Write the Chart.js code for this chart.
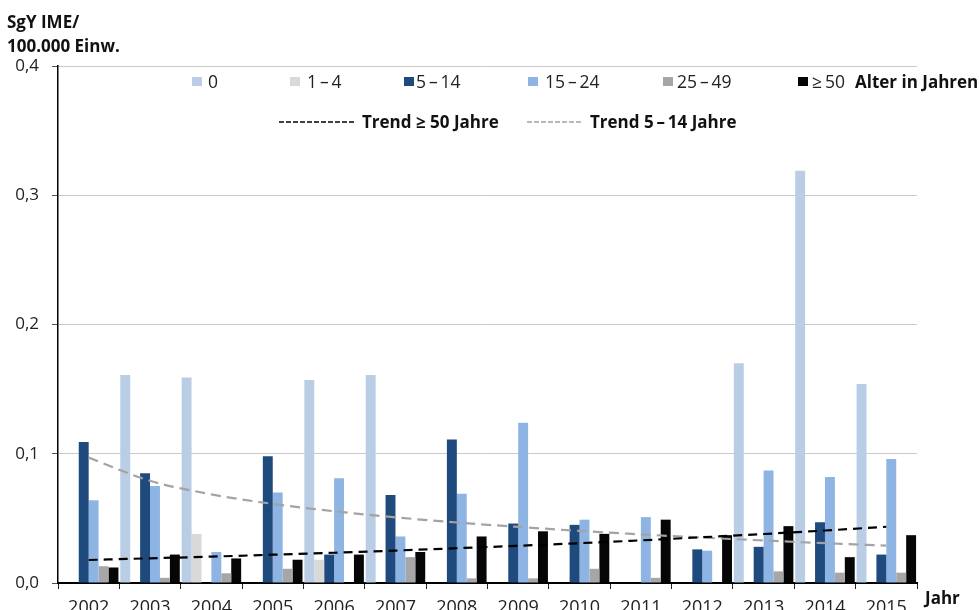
<!DOCTYPE html>
<html>
<head>
<meta charset="utf-8">
<script src="https://cdn.jsdelivr.net/npm/chart.js@4/dist/chart.umd.min.js"></script>
<style>
  html, body { margin: 0; padding: 0; background: #fff; }
  #wrap { width: 979px; height: 610px; position: relative; }
</style>
</head>
<body>
<div id="wrap"><canvas id="c"></canvas></div>
<script>
// Years on the category axis
const years = ['2002', '2003', '2004', '2005', '2006', '2007', '2008',
               '2009', '2010', '2011', '2012', '2013', '2014', '2015'];

// Age groups (legend labels)
const ageGroups = ['0', '1\u2009\u2013\u20094', '5\u2009\u2013\u200914',
                   '15\u2009\u2013\u200924', '25\u2009\u2013\u200949', '\u2265\u200950'];

// Incidence per 100,000 inhabitants, by age group
const age0    = [0, 0.161, 0.159, 0, 0.157, 0.161, 0, 0, 0, 0, 0, 0.170, 0.319, 0.154];
const age1to4 = [0, 0, 0.038, 0, 0.018, 0, 0, 0, 0, 0, 0, 0, 0, 0];
const age5to14  = [0.109, 0.085, 0, 0.098, 0.022, 0.068, 0.111, 0.046, 0.045, 0, 0.026, 0.028, 0.047, 0.022];
const age15to24 = [0.064, 0.075, 0.024, 0.070, 0.081, 0.036, 0.069, 0.124, 0.049, 0.051, 0.025, 0.087, 0.082, 0.096];
const age25to49 = [0.013, 0.004, 0.0075, 0.011, 0, 0.020, 0.0036, 0.0036, 0.011, 0.004, 0, 0.009, 0.008, 0.008];
const age50plus = [0.012, 0.022, 0.019, 0.018, 0.022, 0.024, 0.036, 0.040, 0.038, 0.049, 0.037, 0.044, 0.020, 0.037];

// Trend curves
const trend50plus = [0.0178, 0.0191, 0.0204, 0.0219, 0.0234, 0.0251, 0.0269,
                     0.0288, 0.0308, 0.0330, 0.0354, 0.0379, 0.0406, 0.0435];
const trend5to14  = [0.0970, 0.0791, 0.0686, 0.0612, 0.0555, 0.0508, 0.0468,
                     0.0434, 0.0403, 0.0376, 0.0351, 0.0329, 0.0308, 0.0289];
const trendLabels = ['Trend \u2265 50 Jahre', 'Trend 5\u2009\u2013\u200914 Jahre'];

// Axis texts
const yTitle = ['SgY IME/', '100.000 Einw.'];
const xTitle = 'Jahr';
const legendTitle = 'Alter in Jahren';
const yMax = 0.4;
const yStep = 0.1;

const FONT = '"Open Sans", "DejaVu Sans", sans-serif';
const colors = ['#b9cde5', '#d9d9d9', '#1f4a7d', '#8eb4e3', '#a6a6a6', '#060606'];
const series = [age0, age1to4, age5to14, age15to24, age25to49, age50plus];

const barSets = series.map((d, i) => ({
  type: 'bar',
  label: ageGroups[i],
  data: d,
  backgroundColor: colors[i],
  borderWidth: 0,
  categoryPercentage: 0.97,
  barPercentage: 1.0,
  order: 2
}));

const lineSets = [
  { type: 'line', label: trendLabels[0], data: trend50plus, borderColor: '#000',
    borderWidth: 2.2, borderDash: [9, 6], pointRadius: 0, fill: false,
    cubicInterpolationMode: 'monotone', order: 0 },
  { type: 'line', label: trendLabels[1], data: trend5to14, borderColor: '#a3a3a3',
    borderWidth: 2.2, borderDash: [10, 6], pointRadius: 0, fill: false,
    cubicInterpolationMode: 'monotone', order: 1 }
];

// Titles and the two-row legend, painted on the canvas
const decor = {
  id: 'decor',
  afterDraw(chart) {
    const ctx = chart.ctx;
    ctx.save();
    ctx.textBaseline = 'alphabetic';
    ctx.textAlign = 'left';
    ctx.fillStyle = '#111';
    ctx.font = `bold 17px ${FONT}`;
    ctx.fillText(yTitle[0], 7, 28);
    ctx.fillText(yTitle[1], 7, 52);
    ctx.fillText(xTitle, 925, 604);

    // legend row 1: colour boxes
    const boxX = [192, 290, 404, 528, 663, 798];
    const textX = [208, 307, 416, 545, 677, 812];
    ctx.font = `17.5px ${FONT}`;
    for (let i = 0; i < ageGroups.length; i++) {
      ctx.fillStyle = colors[i];
      ctx.fillRect(boxX[i], 77, 10, 9);
      ctx.fillStyle = '#222';
      ctx.fillText(ageGroups[i], textX[i], 88);
    }
    ctx.font = `bold 17px ${FONT}`;
    ctx.fillStyle = '#111';
    ctx.fillText(legendTitle, 855, 88);

    // legend row 2: trend lines
    const drawDash = (x0, x1, col) => {
      ctx.beginPath();
      ctx.setLineDash([5, 2]);
      ctx.lineWidth = 1.5;
      ctx.strokeStyle = col;
      ctx.moveTo(x0, 122);
      ctx.lineTo(x1, 122);
      ctx.stroke();
    };
    drawDash(279, 356, '#000');
    drawDash(527, 583, '#a3a3a3');
    ctx.setLineDash([]);
    ctx.fillStyle = '#111';
    ctx.fillText(trendLabels[0], 362, 128);
    ctx.fillText(trendLabels[1], 590, 128);
    ctx.restore();
  }
};

new Chart(document.getElementById('c'), {
  type: 'bar',
  data: { labels: years, datasets: [...barSets, ...lineSets] },
  options: {
    responsive: true,
    maintainAspectRatio: false,
    devicePixelRatio: 1,
    animation: false,
    layout: { padding: { top: 66, left: 0, right: 62, bottom: 0 } },
    plugins: { legend: { display: false }, tooltip: { enabled: false } },
    scales: {
      x: {
        offset: true,
        grid: { drawOnChartArea: false, drawTicks: true, tickLength: 6, color: '#222', offset: true },
        border: { color: '#000', width: 2 },
        ticks: { font: { family: FONT, size: 18 }, color: '#222', padding: 8, maxRotation: 0 },
        afterFit(scale) { scale.height = 27; }
      },
      y: {
        min: 0,
        max: yMax,
        ticks: {
          stepSize: yStep,
          font: { family: FONT, size: 17 },
          color: '#222',
          padding: 13,
          callback: v => v.toFixed(1).replace('.', ',')
        },
        grid: { color: '#cacaca', lineWidth: 1, tickLength: 6, tickColor: '#555' },
        border: { color: '#000', width: 1.5 },
        afterFit(scale) { scale.width = 58; }
      }
    }
  },
  plugins: [decor]
});
</script>
</body>
</html>
